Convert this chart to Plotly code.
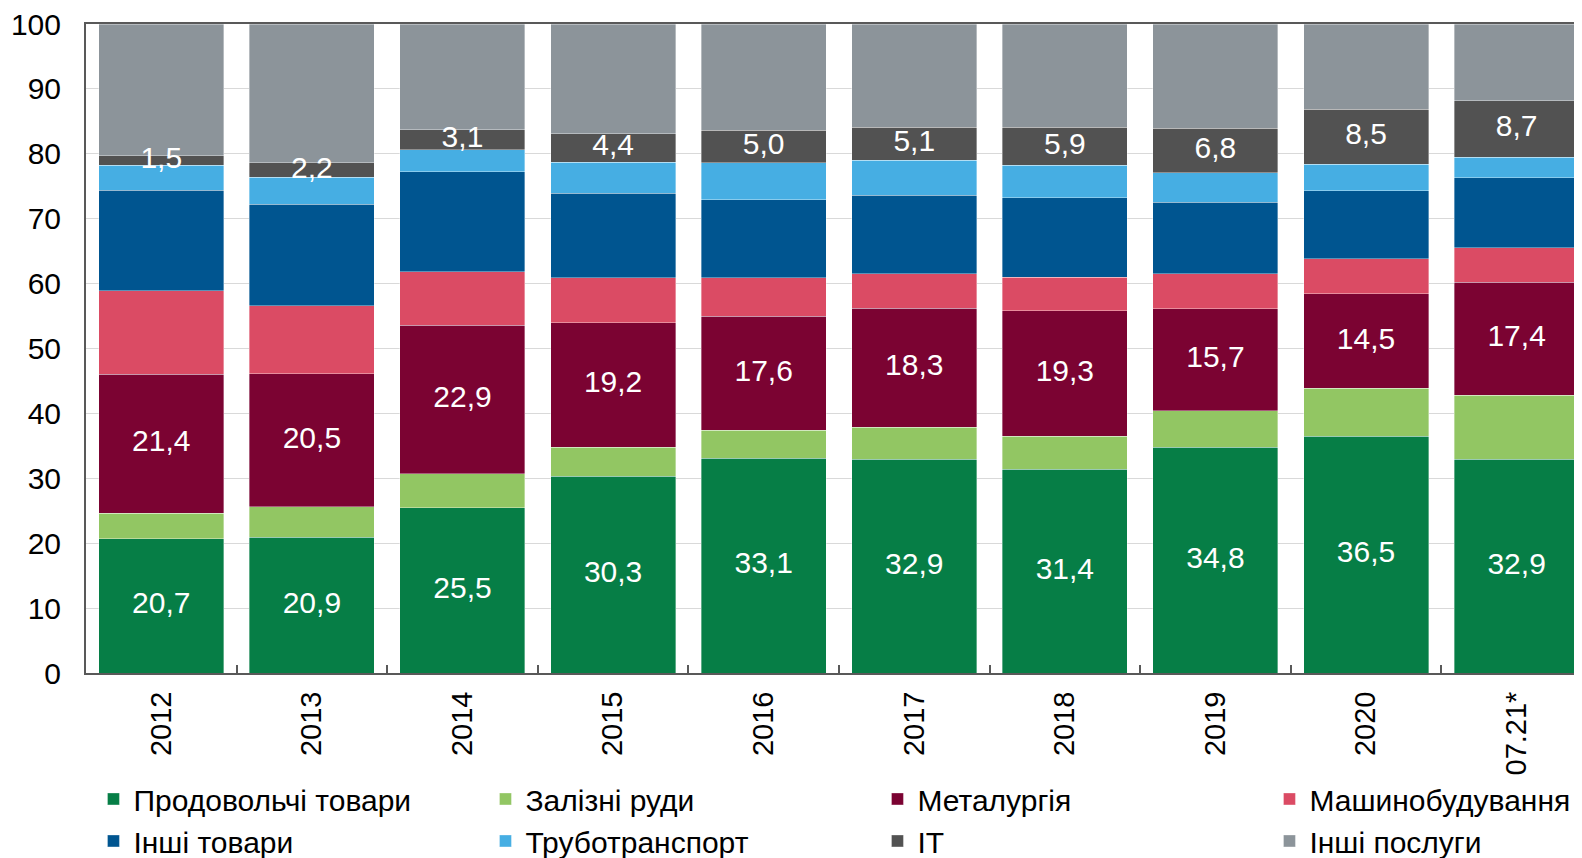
import plotly.graph_objects as go

categories = ["2012", "2013", "2014", "2015", "2016", "2017", "2018", "2019", "2020", "07.21*"]

food = [20.7, 20.9, 25.5, 30.3, 33.1, 32.9, 31.4, 34.8, 36.5, 32.9]
iron_ore = [3.9, 4.7, 5.2, 4.5, 4.3, 5.0, 5.1, 5.6, 7.4, 9.9]
metallurgy = [21.4, 20.5, 22.9, 19.2, 17.6, 18.3, 19.3, 15.7, 14.5, 17.4]
machinery = [12.9, 10.5, 8.2, 6.9, 5.9, 5.3, 5.2, 5.4, 5.4, 5.3]
other_goods = [15.5, 15.6, 15.4, 13.0, 12.0, 12.1, 12.2, 11.0, 10.5, 10.8]
pipeline = [3.8, 4.2, 3.4, 4.8, 5.7, 5.4, 5.0, 4.6, 4.1, 3.2]
it = [1.5, 2.2, 3.1, 4.4, 5.0, 5.1, 5.9, 6.8, 8.5, 8.7]
other_services = [20.3, 21.4, 16.3, 16.9, 16.4, 15.9, 15.9, 16.1, 13.1, 11.8]

series_names = ["Продовольчі товари", "Залізні руди", "Металургія", "Машинобудування",
                "Інші товари", "Труботранспорт", "IT", "Інші послуги"]
series_values = [food, iron_ore, metallurgy, machinery, other_goods, pipeline, it, other_services]
series_colors = ["#067E46", "#92C663", "#7B0332", "#DB4B64",
                 "#005590", "#46AEE3", "#525252", "#8C949A"]
labelled = {"Продовольчі товари", "Металургія", "IT"}

FONT = "Liberation Sans, Arial, sans-serif"

fig = go.Figure()

base = [0.0] * len(categories)
label_x, label_y, label_t = [], [], []
for name, vals, col in zip(series_names, series_values, series_colors):
    fig.add_trace(go.Bar(
        x=categories, y=vals, name=name,
        marker=dict(color=col, line=dict(width=0.8, color="rgba(255,255,255,0.45)")),
        legendwidth=290 if name in ("Машинобудування", "Інші послуги") else None,
        hoverinfo="skip",
    ))
    if name in labelled:
        for c, b, v in zip(categories, base, vals):
            label_x.append(c)
            label_y.append(b + v / 2)
            label_t.append(f"{v:.1f}".replace(".", ","))
    base = [b + v for b, v in zip(base, vals)]

fig.add_trace(go.Scatter(
    x=label_x, y=label_y, text=label_t, mode="text",
    textfont=dict(color="white", size=30, family=FONT),
    textposition="middle center", showlegend=False, hoverinfo="skip", cliponaxis=False,
))

# page body has an 8px margin, so the figure is sized to fit the 1582x858 window
W, H = 1574, 850
fig.update_layout(
    width=W, height=H,
    barmode="stack", bargap=0.17,
    plot_bgcolor="white", paper_bgcolor="white",
    margin=dict(l=0, r=0, t=16.3, b=184.5, autoexpand=False),
    font=dict(family=FONT, size=30, color="black"),
    legend=dict(
        orientation="h", x=0.0543, xanchor="left", y=-0.154, yanchor="top",
        entrywidth=347, entrywidthmode="pixels",
        font=dict(size=30, family=FONT, color="black"),
        traceorder="normal", bgcolor="rgba(0,0,0,0)",
    ),
    xaxis=dict(
        domain=[78 / W, 1.0], range=[-0.5, 9.434],
        type="category", tickangle=-90,
        showline=True, linecolor="#595959", linewidth=2, mirror=True,
        ticks="inside", tickson="boundaries", ticklen=8, tickcolor="#595959", tickwidth=1.5,
        tickfont=dict(size=29, family=FONT, color="black"),
        ticklabelstandoff=5,
        showgrid=False,
    ),
    yaxis=dict(
        range=[0, 100], dtick=10, tick0=0,
        showline=True, linecolor="#595959", linewidth=2,
        showgrid=True, gridcolor="#d9d9d9", gridwidth=1,
        ticks="", tickfont=dict(size=30, family=FONT, color="black"),
        ticklabelstandoff=17, ticklabeloverflow="allow",
        zeroline=False,
    ),
)

fig.write_html("out.html")
